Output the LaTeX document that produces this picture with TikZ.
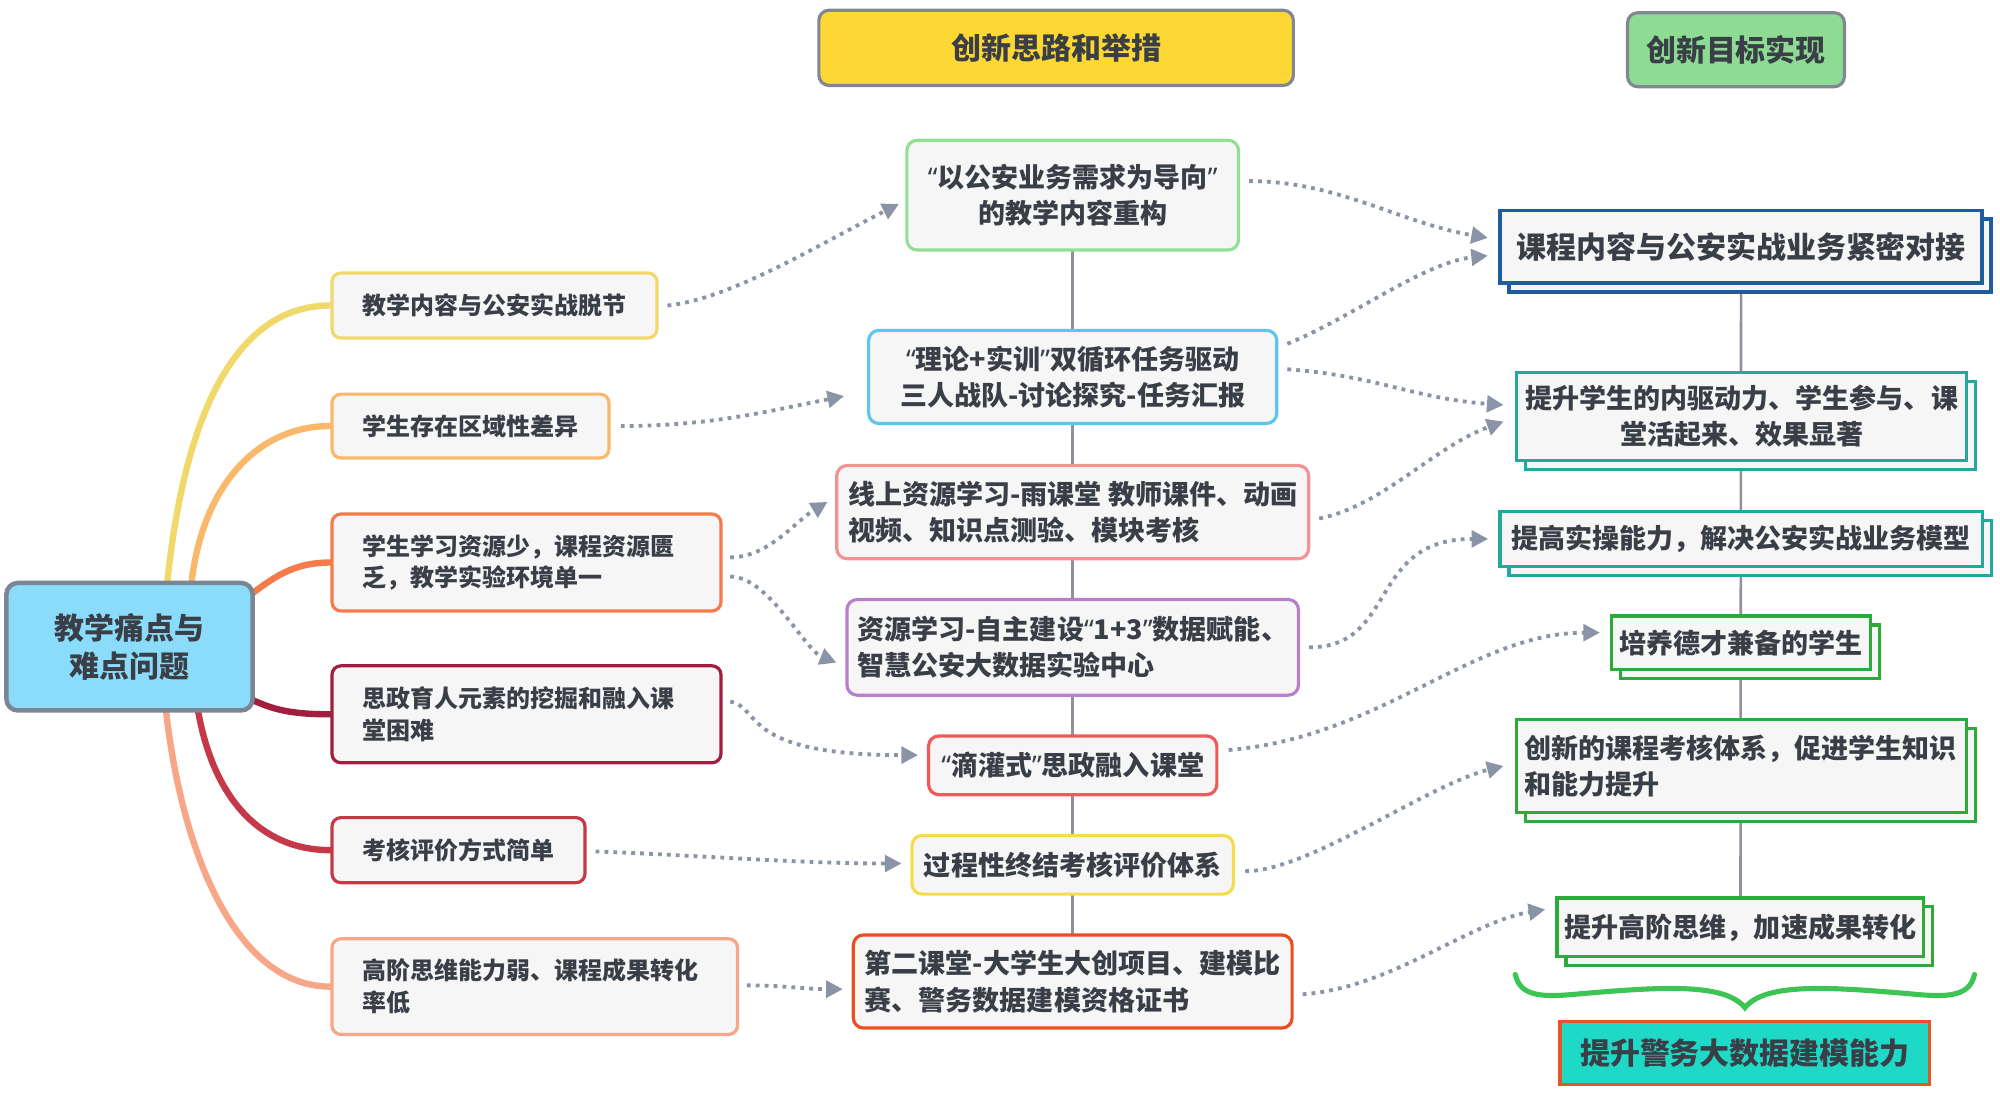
\documentclass[tikz,border=0pt]{standalone}
\usepackage{fontspec}
\setmainfont{Noto Sans CJK SC}
\newfontfamily\quotefont{Noto Sans}
\newcommand{\openq}{{\quotefont “}}
\newcommand{\closeq}{{\quotefont ”}}
\usetikzlibrary{arrows.meta,calc,shadows,backgrounds}

\definecolor{boxfill}{RGB}{246,246,246}
\definecolor{txtgray}{RGB}{58,62,71}
\definecolor{arrgray}{RGB}{138,148,166}
\definecolor{lnkgray}{RGB}{142,147,155}
\definecolor{hdrgray}{RGB}{128,136,145}
\definecolor{hdryellow}{RGB}{253,216,53}
\definecolor{hdrgreen}{RGB}{142,220,147}
\definecolor{rootblue}{RGB}{139,220,250}
\definecolor{rootedge}{RGB}{122,134,150}
% branch and pain point colours
\definecolor{brA}{RGB}{240,216,106}
\definecolor{brB}{RGB}{250,184,106}
\definecolor{brC}{RGB}{245,123,74}
\definecolor{brD}{RGB}{163,30,62}
\definecolor{brE}{RGB}{197,56,72}
\definecolor{brF}{RGB}{247,166,135}
% idea colours
\definecolor{ideaA}{RGB}{147,223,149}
\definecolor{ideaB}{RGB}{91,198,238}
\definecolor{ideaC}{RGB}{242,147,147}
\definecolor{ideaD}{RGB}{184,127,204}
\definecolor{ideaE}{RGB}{239,90,90}
\definecolor{ideaF}{RGB}{244,221,77}
\definecolor{ideaG}{RGB}{233,80,31}
% goal colours
\definecolor{goalblue}{RGB}{30,92,156}
\definecolor{goalteal}{RGB}{34,169,155}
\definecolor{goalgreen}{RGB}{46,170,59}
\definecolor{goalcyan}{RGB}{31,217,199}
\definecolor{goalred}{RGB}{228,86,42}
\definecolor{bracegreen}{RGB}{61,196,84}

\tikzset{
  hdrbox/.style={draw=hdrgray, fill=#1, line width=2.5pt, rounded corners=8pt, inner ysep=0pt,
    font=\fontsize{23.5pt}{28pt}\selectfont\bfseries, text=txtgray},
  rootbox/.style={draw=rootedge, fill=rootblue, line width=3.5pt, rounded corners=9pt, align=center,
    minimum width=193pt, minimum height=100pt, inner sep=0pt,
    font=\fontsize{23.5pt}{30pt}\selectfont\bfseries, text=txtgray},
  painbox/.style={draw=#1, fill=boxfill, line width=2.5pt, rounded corners=7pt, anchor=west, align=left,
    inner xsep=24pt, inner ysep=0pt, font=\fontsize{18.8pt}{25pt}\selectfont\bfseries, text=txtgray},
  ideabox/.style={draw=#1, fill=boxfill, line width=2.5pt, rounded corners=8pt,
    inner xsep=8pt, inner ysep=0pt, font=\fontsize{21.2pt}{28.5pt}\selectfont\bfseries, text=txtgray},
  goalbox/.style={draw=#1, fill=boxfill, line width=2.5pt, inner xsep=6pt, inner ysep=0pt,
    copy shadow={shadow xshift=7pt, shadow yshift=-7pt, draw=#1, fill=boxfill},
    font=\fontsize{21.2pt}{28.5pt}\selectfont\bfseries, text=txtgray},
  branch/.style={draw=#1, line width=5pt, line cap=round},
  dotarrow/.style={draw=arrgray, line width=3pt, dash pattern=on 3pt off 4pt,
    -{Triangle[length=13pt,width=13pt]}},
  link/.style={draw=lnkgray, line width=2pt}
}

\begin{document}
\begin{tikzpicture}[x=1pt,y=1pt,yscale=-1,xscale=1]
\useasboundingbox (0,0) rectangle (1568,857);

% headers
\node[hdrbox=hdryellow, minimum width=372pt, minimum height=59pt] (hdrIdea) at (828,37.5) {创新思路和举措};
\node[hdrbox=hdrgreen, minimum width=170pt, minimum height=58pt] (hdrGoal) at (1361,39) {创新目标实现};

% root
\node[rootbox] (root) at (101.5,507) {教学痛点与\\难点问题};

% pain points
\node[painbox=brA, minimum height=51pt] (pain1) at (259,239.5) {教学内容与公安实战脱节};
\node[painbox=brB, minimum height=50pt] (pain2) at (259,334) {学生存在区域性差异};
\node[painbox=brC, minimum height=76pt, text width=257pt] (pain3) at (259,441) {学生学习资源少，课程资源匮\\乏，教学实验环境单一};
\node[painbox=brD, minimum height=76pt, text width=257pt] (pain4) at (259,560) {思政育人元素的挖掘和融入课\\堂困难};
\node[painbox=brE, minimum height=51pt] (pain5) at (259,666.5) {考核评价方式简单};
\node[painbox=brF, minimum height=75pt, text width=270pt] (pain6) at (259,773.5) {高阶思维能力弱、课程成果转化\\率低};

% ideas
\node[ideabox=ideaA, minimum width=260pt, minimum height=86pt, align=center] (idea1) at (841,153) {\openq 以公安业务需求为导向\closeq\\的教学内容重构};
\node[ideabox=ideaB, minimum width=320pt, minimum height=73pt, align=center] (idea2) at (841,295.5) {\openq 理论+实训\closeq 双循环任务驱动\\三人战队-讨论探究-任务汇报};
\node[ideabox=ideaC, minimum width=370pt, minimum height=73pt, align=left] (idea3) at (841,401.5) {线上资源学习-雨课堂 教师课件、动画\\视频、知识点测验、模块考核};
\node[ideabox=ideaD, minimum width=354pt, minimum height=75pt, align=left] (idea4) at (841,507.5) {资源学习-自主建设\openq 1+3\closeq 数据赋能、\\智慧公安大数据实验中心};
\node[ideabox=ideaE, minimum width=226pt, minimum height=46pt] (idea5) at (841,600) {\openq 滴灌式\closeq 思政融入课堂};
\node[ideabox=ideaF, minimum width=252pt, minimum height=46pt] (idea6) at (841,678) {过程性终结考核评价体系};
\node[ideabox=ideaG, minimum width=344pt, minimum height=73pt, align=left] (idea7) at (841,769.5) {第二课堂-大学生大创项目、建模比\\赛、警务数据建模资格证书};

% goals
\node[goalbox=goalblue, line width=3pt, minimum width=378pt, minimum height=57pt,
  font=\fontsize{23.5pt}{28pt}\selectfont\bfseries] (goal1) at (1365,193.5) {课程内容与公安实战业务紧密对接};
\node[goalbox=goalteal, minimum width=353pt, minimum height=69pt, align=center] (goal2) at (1365.5,326.5) {提升学生的内驱动力、学生参与、课\\堂活起来、效果显著};
\node[goalbox=goalteal, minimum width=378pt, minimum height=43pt] (goal3) at (1365,422.5) {提高实操能力，解决公安实战业务模型};
\node[goalbox=goalgreen, minimum width=202pt, minimum height=42pt] (goal4) at (1365,504) {培养德才兼备的学生};
\node[goalbox=goalgreen, minimum height=73pt, text width=341pt, align=left] (goal5) at (1365.5,600.5) {创新的课程考核体系，促进学生知识\\和能力提升};
\node[goalbox=goalgreen, minimum width=287pt, minimum height=46pt] (goal6) at (1364.5,727) {提升高阶思维，加速成果转化};
\node[draw=goalred, fill=goalcyan, line width=2.5pt, minimum width=290pt, minimum height=49pt, inner sep=0pt,
  font=\fontsize{23.5pt}{28pt}\selectfont\bfseries, text=txtgray] (goal7) at (1368,825.5) {提升警务大数据建模能力};

% brace
\draw[bracegreen, line width=4pt, line cap=round]
  (1188,764) .. controls (1192,782) and (1210,782) .. (1240,779)
  .. controls (1300,774) and (1352,770) .. (1368,790)
  .. controls (1384,770) and (1436,774) .. (1496,779)
  .. controls (1526,782) and (1544,782) .. (1548,764);

\begin{pgfonlayer}{background}
% column links
\draw[link] (idea1.center) -- (idea7.center);
\draw[link] (goal1.center) -- (goal6.center);
% branches
\draw[branch=brA] ($(root.north)+(29.5,3)$) .. controls +(11,-110) and +(-84,0) .. (pain1.west);
\draw[branch=brB] ($(root.north)+(48.5,3)$) .. controls +(8,-75) and +(-59,0) .. (pain2.west);
\draw[branch=brC] ($(root.north east)+(-6,13)$) .. controls +(20,-15) and +(-30,0) .. (pain3.west);
\draw[branch=brD] ($(root.south east)+(-6,-12)$) .. controls +(20,10) and +(-30,0) .. (pain4.west);
\draw[branch=brE] ($(root.south)+(53.5,-3)$) .. controls +(12,70) and +(-55,0) .. (pain5.west);
\draw[branch=brF] ($(root.south)+(28.5,-3)$) .. controls +(12,110) and +(-75,0) .. (pain6.west);
\end{pgfonlayer}

% pain points to ideas
\draw[dotarrow] ($(pain1.east)+(7,0)$) .. controls +(50,-5) and +(-60,30) .. ($(idea1.west)+(-5,7)$);
\draw[dotarrow] ($(pain2.east)+(8,0)$) .. controls +(70,0) and +(-60,12) .. ($(idea2.west)+(-18,15)$);
\draw[dotarrow] ($(pain3.east)+(6,-4)$) .. controls +(30,0) and +(-25,15) .. ($(idea3.west)+(-6,-8)$);
\draw[dotarrow] ($(pain3.east)+(6,11)$) .. controls +(30,0) and +(-25,-10) .. ($(idea4.west)+(-7,12)$);
\draw[dotarrow] ($(pain4.east)+(6,-10)$) .. controls +(25,5) and +(-140,0) .. ($(idea5.west)+(-7,-8)$);
\draw[dotarrow] ($(pain5.east)+(7,1)$) .. controls +(80,3) and +(-80,0) .. ($(idea6.west)+(-7,-1)$);
\draw[dotarrow] ($(pain6.east)+(6,-1)$) .. controls +(30,0) and +(-30,0) .. ($(idea7.west)+(-7,6)$);

% ideas to goals
\draw[dotarrow] ($(idea1.east)+(7,-11)$) .. controls +(70,0) and +(-70,-12) .. ($(goal1.west)+(-8,-7)$);
\draw[dotarrow] ($(idea2.east)+(7,-26)$) .. controls +(50,-20) and +(-50,5) .. ($(goal1.west)+(-8,7)$);
\draw[dotarrow] ($(idea2.east)+(7,-6)$) .. controls +(70,5) and +(-70,-5) .. ($(goal2.west)+(-9,-9)$);
\draw[dotarrow] ($(idea3.east)+(7,5)$) .. controls +(50,-10) and +(-55,20) .. ($(goal2.west)+(-9,4)$);
\draw[dotarrow] ($(idea4.east)+(7,0)$) .. controls +(70,0) and +(-95,0) .. ($(goal3.west)+(-8,0)$);
\draw[dotarrow] ($(idea5.east)+(8,-12)$) .. controls +(120,-10) and +(-100,0) .. ($(goal4.west)+(-8,-8)$);
\draw[dotarrow] ($(idea6.east)+(8,5)$) .. controls +(50,0) and +(-60,15) .. ($(goal5.west)+(-9,0)$);
\draw[dotarrow] ($(idea7.east)+(7,10)$) .. controls +(70,-5) and +(-60,10) .. ($(goal6.west)+(-8,-14)$);

\end{tikzpicture}
\end{document}
